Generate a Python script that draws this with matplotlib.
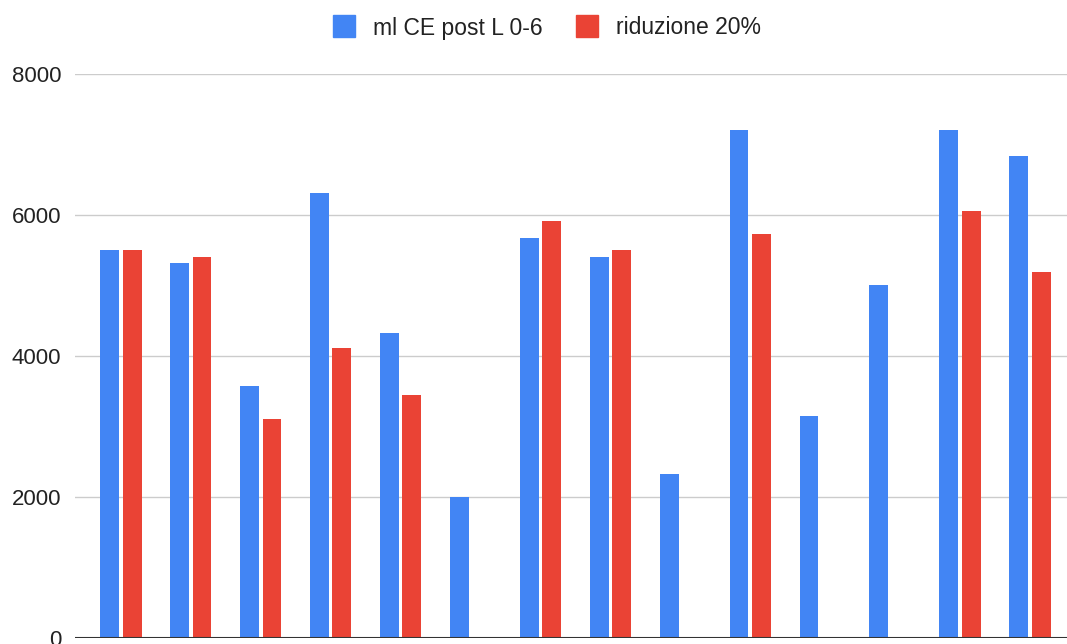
import matplotlib
matplotlib.use("Agg")
import matplotlib.pyplot as plt
import numpy as np
from matplotlib.lines import Line2D

plt.rcParams['font.family'] = ['Liberation Sans', 'DejaVu Sans']

# values per group (None = no bar)
ml_ce = [5500, 5320, 3580, 6310, 4330, 2000, 5680, 5400, 2320, 7200, 3150, 5000, 7200, 6830]
riduzione = [5500, 5400, 3100, 4120, 3450, None, 5920, 5500, None, 5730, None, None, 6060, 5190]
series_names = ["ml CE post L 0-6", "riduzione 20%"]
yticks = [0, 2000, 4000, 6000, 8000]

blue = "#4285F4"
red = "#EA4335"

fig = plt.figure(figsize=(10.67, 6.44), dpi=100)
ax = fig.add_axes([75 / 1067, 1 - 638 / 644, 992 / 1067, (638 - 74) / 644])

x = np.arange(len(ml_ce))
w = 0.27
off = 0.16
ax.bar(x - off, ml_ce, width=w, color=blue, zorder=3)
red_x = [xi + off for xi, v in zip(x, riduzione) if v is not None]
red_v = [v for v in riduzione if v is not None]
ax.bar(red_x, red_v, width=w, color=red, zorder=3)

ax.set_xlim(-0.657, 13.53)
ax.set_ylim(0, 8000)
ax.set_yticks(yticks)
ax.set_yticklabels([str(t) for t in yticks])
ax.set_xticks([])
ax.grid(axis='y', color='#cccccc', linewidth=1, zorder=0)
ax.axhline(0, color='#333333', linewidth=1.5, zorder=4)
for s in ax.spines.values():
    s.set_visible(False)
ax.tick_params(axis='y', length=0, pad=10, labelsize=16, labelcolor='#222222')

handles = [Line2D([], [], marker='s', linestyle='', markersize=16, color=c)
           for c in (blue, red)]
fig.legend(handles, series_names, loc='center', bbox_to_anchor=(541 / 1067, 1 - 28 / 644),
           ncol=2, frameon=False, fontsize=16.5, handletextpad=0.3, columnspacing=0.9,
           labelcolor='#222222')

fig.savefig("out.png", dpi=100)
